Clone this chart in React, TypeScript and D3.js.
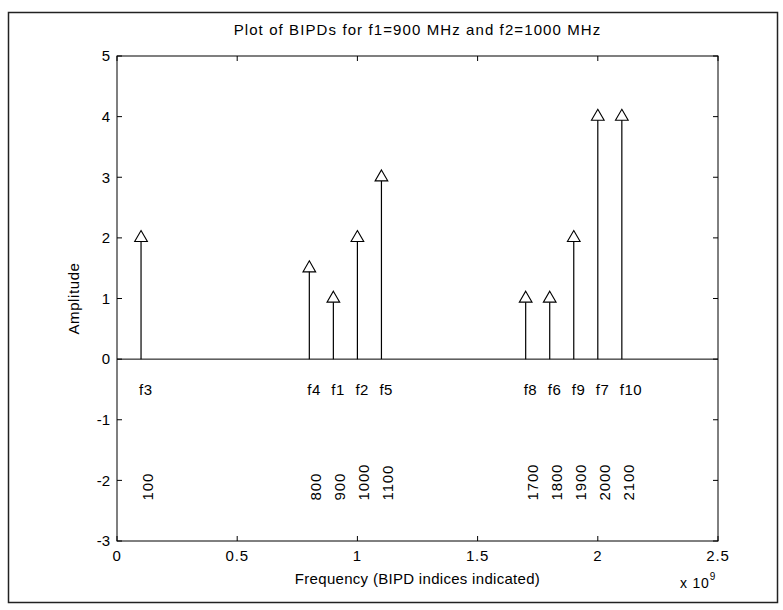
import * as d3 from 'd3';

// BIPD stem data (frequency in Hz, amplitude)
const labels = ['f3', 'f4', 'f1', 'f2', 'f5', 'f8', 'f6', 'f9', 'f7', 'f10'];
const freqs = [100e6, 800e6, 900e6, 1000e6, 1100e6, 1700e6, 1800e6, 1900e6, 2000e6, 2100e6];
const amps = [2, 1.5, 1, 2, 3, 1, 1, 2, 4, 4];
const mhz = ['100', '800', '900', '1000', '1100', '1700', '1800', '1900', '2000', '2100'];

const xTicks = [0, 0.5e9, 1e9, 1.5e9, 2e9, 2.5e9];
const xTickLabels = ['0', '0.5', '1', '1.5', '2', '2.5'];
const yTicks = [-3, -2, -1, 0, 1, 2, 3, 4, 5];

const W = 783;
const H = 610;
const m = { left: 117, right: 718, top: 56, bottom: 541 };
const FONT = 'Arial, "Liberation Sans", Helvetica, sans-serif';

export default function App() {
  const x = d3.scaleLinear().domain([0, 2.5e9]).range([m.left, m.right]);
  const y = d3.scaleLinear().domain([-3, 5]).range([m.bottom, m.top]);
  const tri = d3.symbol().type(d3.symbolTriangle).size(70);
  const tick = 5;

  return (
    <svg width={W} height={H} style={{ position: 'absolute', left: 0, top: 0 }} fontFamily={FONT}>
      <rect x={0} y={0} width={W} height={H} fill="#fff" />
      {/* figure frame */}
      <rect x={8.5} y={12.5} width={769} height={590} fill="none" stroke="#222" strokeWidth={1.5} />

      <text x={(m.left + m.right) / 2} y={35} textAnchor="middle" fontSize={15} letterSpacing={1.1}>
        Plot of BIPDs for f1=900 MHz and f2=1000 MHz
      </text>

      {/* axes box */}
      <rect x={m.left} y={m.top} width={m.right - m.left} height={m.bottom - m.top} fill="none" stroke="#000" strokeWidth={1} />

      {xTicks.map((t, i) => (
        <g key={'xt' + i}>
          <line x1={x(t)} x2={x(t)} y1={m.bottom} y2={m.bottom - tick} stroke="#000" />
          <line x1={x(t)} x2={x(t)} y1={m.top} y2={m.top + tick} stroke="#000" />
          <text x={x(t)} y={m.bottom + 20} textAnchor="middle" fontSize={15} letterSpacing={0.8}>{xTickLabels[i]}</text>
        </g>
      ))}
      {yTicks.map((t) => (
        <g key={'yt' + t}>
          <line x1={m.left} x2={m.left + tick} y1={y(t)} y2={y(t)} stroke="#000" />
          <line x1={m.right} x2={m.right - tick} y1={y(t)} y2={y(t)} stroke="#000" />
          <text x={m.left - 7} y={y(t)} dy="0.35em" textAnchor="end" fontSize={15}>{t}</text>
        </g>
      ))}

      {/* stem baseline */}
      <line x1={m.left} x2={m.right} y1={y(0)} y2={y(0)} stroke="#000" />

      {freqs.map((f, i) => (
        <g key={'s' + i}>
          <line x1={x(f)} x2={x(f)} y1={y(0)} y2={y(amps[i])} stroke="#000" strokeWidth={1.2} />
          <path d={tri()!} transform={`translate(${x(f)},${y(amps[i])})`} fill="#fff" stroke="#000" strokeWidth={1.1} />
          <text x={x(f) - 2} y={y(-0.5)} dy="0.35em" fontSize={15} letterSpacing={0.5}>{labels[i]}</text>
          <text transform={`translate(${x(f)},${y(-2.33)}) rotate(-90)`} dy="0.8em" fontSize={15} letterSpacing={0.8}>{mhz[i]}</text>
        </g>
      ))}

      <text transform={`translate(79,${(m.top + m.bottom) / 2}) rotate(-90)`} textAnchor="middle" fontSize={15} letterSpacing={0.6}>
        Amplitude
      </text>
      <text x={(m.left + m.right) / 2} y={584} textAnchor="middle" fontSize={15} letterSpacing={0.3}>
        Frequency (BIPD indices indicated)
      </text>
      <text x={680} y={588} fontSize={14} letterSpacing={0.8}>
        x 10<tspan dy={-8} fontSize={10}>9</tspan>
      </text>
    </svg>
  );
}
